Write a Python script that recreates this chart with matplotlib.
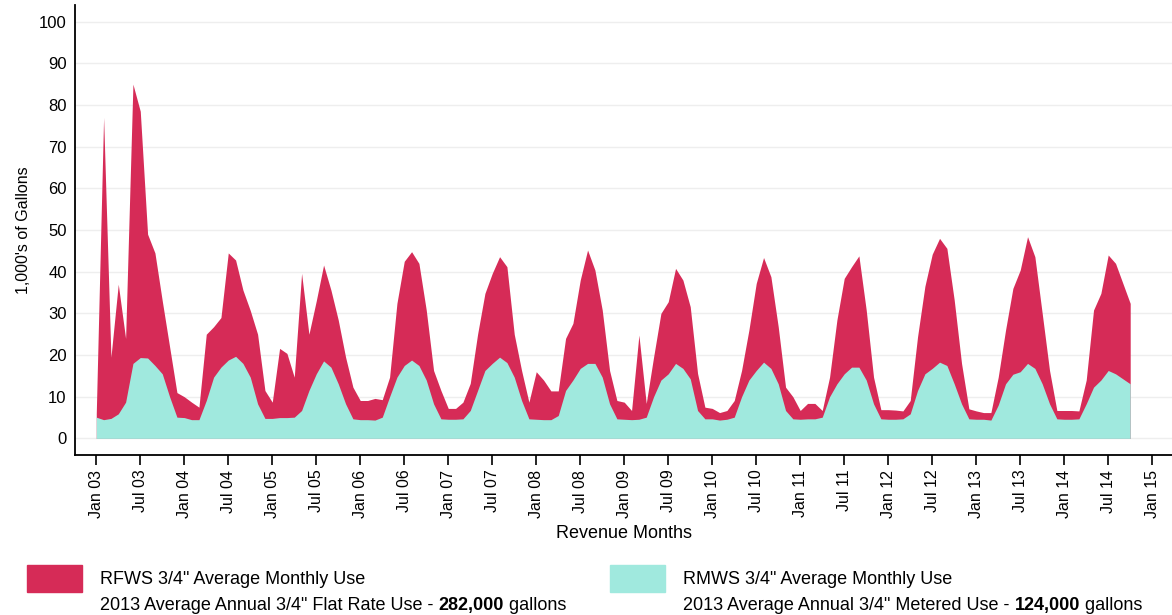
import matplotlib.pyplot as plt
from matplotlib.patches import Rectangle
import numpy as np

# monthly use, Jan 03 .. Oct 14 (1,000's of gallons)
flat_rate = [6, 77, 19.5, 37, 24, 85, 78.5, 49, 44.5, 33, 22, 11,
             10, 8.7, 7.5, 25, 26.8, 29, 44.5, 42.8, 35.6, 30.7, 25, 11.5,
             8.7, 21.6, 20.4, 14.7, 39.6, 25, 33, 41.6, 35.6, 28.4, 19.5, 12.3,
             9.1, 9.1, 9.6, 9.3, 14.7, 32.4, 42.5, 44.8, 42, 30.8, 16.3, 11.5,
             7.2, 7.2, 8.7, 13.2, 25, 34.8, 39.6, 43.6, 41.2, 25, 16.3, 8.7,
             16, 14, 11.4, 11.4, 24, 27.6, 38, 45.2, 40.4, 30.8, 16.3, 9.1,
             8.7, 6.7, 24.8, 8.4, 19.5, 30, 32.8, 40.8, 38, 31.6, 15.6, 7.5,
             7.2, 6.2, 6.7, 9.1, 16.3, 26, 37.2, 43.4, 38.8, 26.8, 12.3, 10,
             6.7, 8.4, 8.4, 6.7, 14.7, 28.4, 38.4, 41.2, 43.8, 30.8, 14.7, 6.9,
             6.9, 6.8, 6.6, 9.1, 24.4, 36.5, 44.2, 48, 45.6, 33.2, 18, 7.1,
             6.6, 6.2, 6.2, 14.7, 26, 36, 40.4, 48.4, 43.6, 30, 16.3, 6.7,
             6.7, 6.7, 6.6, 14, 30.8, 34.8, 44, 42, 37.2, 32.4]

metered = [5.1, 4.5, 4.8, 5.9, 8.7, 18, 19.4, 19.3, 17.5, 15.5, 10, 5.1,
           5, 4.5, 4.5, 9.1, 14.7, 17.1, 18.8, 19.7, 18, 14.7, 8.3, 4.8,
           4.8, 5, 5, 5.1, 6.7, 11.5, 15.5, 18.6, 17.1, 13.1, 8.3, 4.7,
           4.5, 4.5, 4.4, 5.1, 10, 14.7, 17.5, 18.8, 17.5, 14, 8.3, 4.7,
           4.6, 4.6, 4.7, 6.7, 11.5, 16.3, 18, 19.5, 18.2, 14.7, 9.1, 4.7,
           4.6, 4.5, 4.5, 5.5, 11.5, 14, 16.8, 18, 18, 14.7, 8.3, 4.7,
           4.6, 4.5, 4.6, 5.1, 10, 14, 15.5, 18, 16.8, 14.3, 6.7, 4.7,
           4.7, 4.4, 4.6, 5.1, 10, 14, 16.3, 18.3, 16.8, 13.1, 6.7, 4.7,
           4.6, 4.7, 4.7, 5.1, 10, 13.1, 15.5, 17.1, 17.1, 14, 8.3, 4.7,
           4.6, 4.6, 4.7, 5.9, 11.5, 15.5, 16.8, 18.3, 17.5, 13.1, 8.3, 4.7,
           4.6, 4.6, 4.4, 8, 13.1, 15.4, 16, 18, 16.8, 13.1, 8.3, 4.7,
           4.6, 4.6, 4.7, 8.3, 12.3, 14, 16.3, 15.5, 14.3, 13.1]

tick_labels = ["Jan 03", "Jul 03", "Jan 04", "Jul 04", "Jan 05", "Jul 05",
               "Jan 06", "Jul 06", "Jan 07", "Jul 07", "Jan 08", "Jul 08",
               "Jan 09", "Jul 09", "Jan 10", "Jul 10", "Jan 11", "Jul 11",
               "Jan 12", "Jul 12", "Jan 13", "Jul 13", "Jan 14", "Jul 14",
               "Jan 15"]

plt.rcParams["font.family"] = ["Liberation Sans", "DejaVu Sans"]

red = "#D62B57"
cyan = "#A0E9DE"

months = np.arange(len(flat_rate))

fig = plt.figure(figsize=(11.72, 6.15), dpi=100)
ax = fig.add_axes([0.064, 0.26, 0.936, 0.732])

# flat rate area first, metered drawn on top of it
ax.fill_between(months, 0, flat_rate, color=red, linewidth=0)
ax.fill_between(months, 0, metered, color=cyan, linewidth=0)

ax.set_xlim(-2.9, 146.7)
ax.set_ylim(-4, 104)
ax.set_yticks(np.arange(0, 101, 10))
ax.set_xticks(np.arange(len(tick_labels)) * 6)
ax.set_xticklabels(tick_labels, rotation=90)
ax.grid(axis="y", color="#eeeeee", linewidth=1)
ax.set_axisbelow(True)

ax.tick_params(axis="y", length=0, pad=6, labelsize=12)
ax.tick_params(axis="x", length=7, width=1.2, direction="out", labelsize=11.5)
for s in ["top", "right"]:
    ax.spines[s].set_visible(False)
ax.spines["left"].set_linewidth(1.3)
ax.spines["bottom"].set_linewidth(1.3)

ax.set_xlabel("Revenue Months", fontsize=13, labelpad=5)
ax.set_ylabel("1,000's of Gallons", fontsize=11.5, labelpad=6)

# legend at the bottom
fig.patches.append(Rectangle((27 / 1172, 1 - 592 / 615), 55 / 1172, 27 / 615,
                             transform=fig.transFigure, color=red))
fig.patches.append(Rectangle((610 / 1172, 1 - 592 / 615), 55 / 1172, 27 / 615,
                             transform=fig.transFigure, color=cyan))


def text_row(x, y, parts, size=13):
    prev = fig.text(x, y, parts[0][0], fontsize=size, fontweight=parts[0][1], va="bottom")
    for txt, w in parts[1:]:
        prev = ax.annotate(txt, xy=(1, 0), xycoords=prev, va="bottom", ha="left",
                           fontsize=size, fontweight=w, annotation_clip=False)


fig.text(100 / 1172, 1 - 580 / 615, 'RFWS 3/4" Average Monthly Use', fontsize=13, va="center")
text_row(100 / 1172, 1 - 614 / 615, [('2013 Average Annual 3/4" Flat Rate Use - ', "normal"),
                                     ("282,000", "bold"), (" gallons", "normal")])
fig.text(683 / 1172, 1 - 580 / 615, 'RMWS 3/4" Average Monthly Use', fontsize=13, va="center")
text_row(683 / 1172, 1 - 614 / 615, [('2013 Average Annual 3/4" Metered Use - ', "normal"),
                                     ("124,000", "bold"), (" gallons", "normal")])

fig.savefig("out.png", dpi=100)
